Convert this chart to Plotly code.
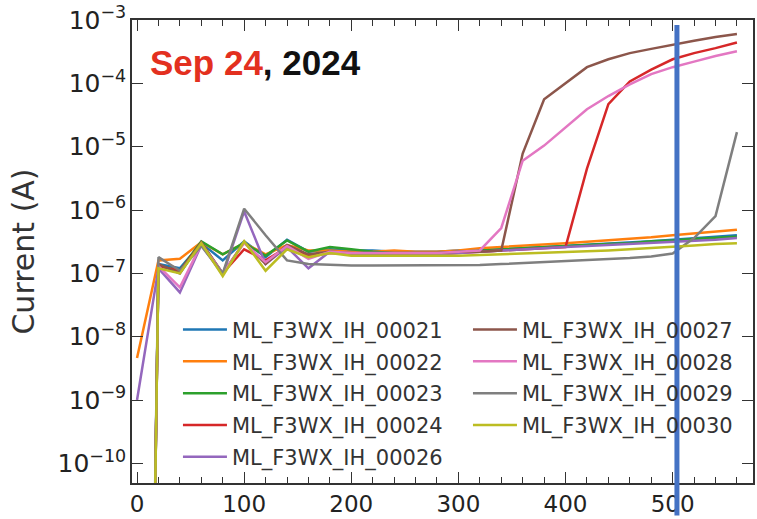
import plotly.graph_objects as go

# ---------------- data ----------------
Z = 1e-30  # reading of "zero" current (drawn as a near-vertical drop on the log axis)
voltage = [0, 20, 40, 60, 80, 100, 120, 140, 160, 180, 200, 220, 240, 260, 280,
           300, 320, 340, 360, 380, 400, 420, 440, 460, 480, 500, 520, 540, 560]

names = ["ML_F3WX_IH_00021", "ML_F3WX_IH_00022", "ML_F3WX_IH_00023", "ML_F3WX_IH_00024",
         "ML_F3WX_IH_00026", "ML_F3WX_IH_00027", "ML_F3WX_IH_00028", "ML_F3WX_IH_00029",
         "ML_F3WX_IH_00030"]

s21 = [Z, 1.4e-7, 1.2e-7, 3.0e-7, 1.6e-7, 3.2e-7, 1.8e-7, 3.4e-7, 2.2e-7, 2.4e-7, 2.3e-7, 2.3e-7, 2.2e-7, 2.2e-7, 2.2e-7,
       2.3e-7, 2.3e-7, 2.4e-7, 2.5e-7, 2.6e-7, 2.7e-7, 2.8e-7, 2.9e-7, 3.0e-7, 3.2e-7, 3.4e-7, 3.6e-7, 3.8e-7, 4.0e-7]
s22 = [4.6e-9, 1.6e-7, 1.7e-7, 3.1e-7, 2.0e-7, 3.0e-7, 2.0e-7, 2.8e-7, 2.3e-7, 2.3e-7, 2.2e-7, 2.2e-7, 2.3e-7, 2.2e-7, 2.2e-7,
       2.3e-7, 2.5e-7, 2.6e-7, 2.7e-7, 2.85e-7, 3.0e-7, 3.15e-7, 3.3e-7, 3.5e-7, 3.7e-7, 4.0e-7, 4.3e-7, 4.6e-7, 4.9e-7]
s23 = [Z, 1.3e-7, 1.1e-7, 3.2e-7, 2.0e-7, 3.0e-7, 1.9e-7, 3.3e-7, 2.2e-7, 2.6e-7, 2.4e-7, 2.2e-7, 2.1e-7, 2.1e-7, 2.1e-7,
       2.2e-7, 2.3e-7, 2.4e-7, 2.5e-7, 2.6e-7, 2.7e-7, 2.8e-7, 2.9e-7, 3.0e-7, 3.2e-7, 3.3e-7, 3.5e-7, 3.6e-7, 3.8e-7]
s24 = [Z, 1.3e-7, 1.1e-7, 3.0e-7, 1.0e-7, 2.4e-7, 1.6e-7, 2.6e-7, 1.9e-7, 2.1e-7, 2.0e-7, 2.0e-7, 2.0e-7, 2.0e-7, 2.0e-7,
       2.1e-7, 2.2e-7, 2.3e-7, 2.4e-7, 2.5e-7, 2.6e-7, 4.5e-6, 4.7e-5, 1.07e-4, 1.65e-4, 2.4e-4, 3.0e-4, 3.6e-4, 4.4e-4]
s26 = [1.0e-9, 1.2e-7, 5.0e-8, 2.8e-7, 9.5e-8, 9.5e-7, 1.4e-7, 2.6e-7, 1.2e-7, 2.2e-7, 2.0e-7, 2.0e-7, 2.0e-7, 2.0e-7, 2.0e-7,
       2.1e-7, 2.2e-7, 2.3e-7, 2.4e-7, 2.5e-7, 2.6e-7, 2.7e-7, 2.8e-7, 2.9e-7, 3.0e-7, 3.1e-7, 3.3e-7, 3.4e-7, 3.6e-7]
s27 = [Z, 1.4e-7, 1.0e-7, 3.1e-7, 1.0e-7, 3.1e-7, 1.4e-7, 2.8e-7, 2.0e-7, 2.2e-7, 2.1e-7, 2.1e-7, 2.1e-7, 2.1e-7, 2.1e-7,
       2.2e-7, 2.2e-7, 2.3e-7, 7.8e-6, 5.6e-5, 1.0e-4, 1.8e-4, 2.4e-4, 3.0e-4, 3.5e-4, 4.1e-4, 4.7e-4, 5.4e-4, 6.0e-4]
s28 = [Z, 1.3e-7, 6.0e-8, 2.9e-7, 1.0e-7, 3.0e-7, 1.5e-7, 2.7e-7, 1.7e-7, 2.2e-7, 2.1e-7, 2.1e-7, 2.1e-7, 2.1e-7, 2.1e-7,
       2.2e-7, 2.3e-7, 5.2e-7, 6.0e-6, 1.04e-5, 2.0e-5, 3.9e-5, 6.3e-5, 9.6e-5, 1.4e-4, 1.8e-4, 2.2e-4, 2.7e-4, 3.2e-4]
s29 = [Z, 1.8e-7, 1.1e-7, 2.7e-7, 1.0e-7, 1.05e-6, 4.0e-7, 1.6e-7, 1.4e-7, 1.35e-7, 1.33e-7, 1.33e-7, 1.33e-7, 1.33e-7, 1.33e-7,
       1.33e-7, 1.35e-7, 1.4e-7, 1.45e-7, 1.5e-7, 1.55e-7, 1.6e-7, 1.65e-7, 1.75e-7, 1.85e-7, 2.05e-7, 3.6e-7, 8.0e-7, 1.7e-5]
s30 = [Z, 1.2e-7, 1.0e-7, 3.0e-7, 9.0e-8, 3.2e-7, 1.1e-7, 2.4e-7, 1.8e-7, 2.1e-7, 1.9e-7, 1.9e-7, 1.85e-7, 1.85e-7, 1.85e-7,
       1.9e-7, 1.95e-7, 2.0e-7, 2.05e-7, 2.1e-7, 2.2e-7, 2.25e-7, 2.3e-7, 2.4e-7, 2.5e-7, 2.6e-7, 2.75e-7, 2.9e-7, 3.0e-7]

series = [s21, s22, s23, s24, s26, s27, s28, s29, s30]
colors = ["#1f77b4", "#ff7f0e", "#2ca02c", "#d62728", "#9467bd",
          "#8c564b", "#e377c2", "#7f7f7f", "#bcbd22"]
legend_ids = ["legend"] * 5 + ["legend2"] * 4

marker_voltage = 504  # position of the blue vertical marker line

# ---------------- figure ----------------
fig = go.Figure()
for name, ys, col, lg in zip(names, series, colors, legend_ids):
    fig.add_trace(go.Scatter(x=voltage, y=ys, mode="lines", name=name, legendgroup=name,
                             line=dict(color=col, width=2.5), legend=lg))

axis_color = "#333333"
tick_font = dict(family="DejaVu Sans", size=23, color="#222222")

fig.update_xaxes(
    range=[-4.7, 575], tick0=0, dtick=100, ticks="inside", ticklen=11, tickwidth=1.3,
    tickcolor=axis_color, showline=True, linecolor=axis_color, linewidth=1.5,
    mirror="ticks", showgrid=False, zeroline=False, tickfont=tick_font,
    minor=dict(dtick=20, ticks="inside", ticklen=6, tickwidth=1.2, tickcolor=axis_color),
)
fig.update_yaxes(
    type="log", range=[-10.31, -3], dtick=1, exponentformat="power",
    ticks="inside", ticklen=11, tickwidth=1.3, tickcolor=axis_color,
    showline=True, linecolor=axis_color, linewidth=1.5, mirror="ticks",
    showgrid=False, zeroline=False,
    tickfont=dict(family="DejaVu Sans", size=20, color="#222222"),
    title=dict(text="Current (A)", font=dict(family="DejaVu Sans", size=30, color="#333333"),
               standoff=14),
)

legend_common = dict(font=dict(family="DejaVu Sans", size=21, color="#333333"),
                     bgcolor="rgba(0,0,0,0)", borderwidth=0, yanchor="top",
                     xanchor="left", tracegroupgap=1.5, traceorder="grouped", itemwidth=44)
fig.update_layout(
    width=757, height=519,
    margin=dict(l=132, r=2, t=20, b=30),
    paper_bgcolor="white", plot_bgcolor="white",
    showlegend=True,
    legend=dict(x=0.074, y=0.375, **legend_common),
    legend2=dict(x=0.541, y=0.375, **legend_common),
)

fig.add_annotation(
    xref="paper", yref="paper", x=0.026, y=0.908, xanchor="left", yanchor="middle",
    text="<b><span style='color:#E3301F'>Sep 24</span>, 2024</b>", showarrow=False,
    font=dict(family="Liberation Sans", size=35, color="#111111"),
)

fig.add_shape(type="line", xref="x", yref="paper", x0=marker_voltage, x1=marker_voltage,
              y0=-0.07, y1=0.989, line=dict(color="#4472C4", width=5), layer="above")

fig.write_html("out.html")
